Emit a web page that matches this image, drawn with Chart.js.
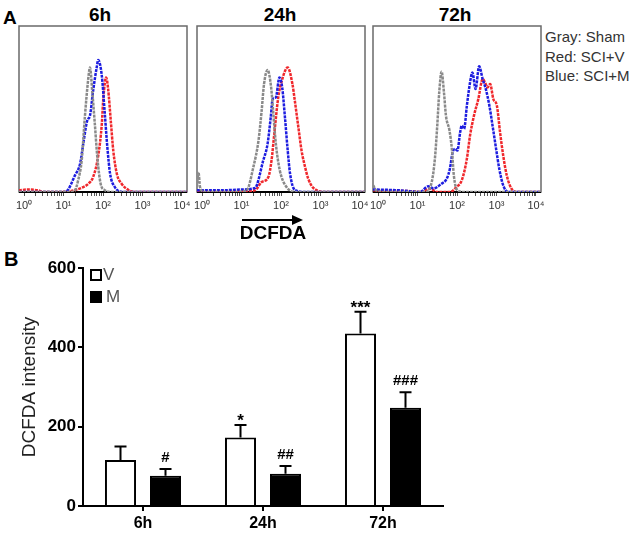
<!DOCTYPE html>
<html>
<head>
<meta charset="utf-8">
<script src="https://cdn.jsdelivr.net/npm/chart.js@4.4.0/dist/chart.umd.min.js"></script>
<style>
  body { margin: 0; background: #fff; width: 638px; height: 537px; position: relative; overflow: hidden;
         font-family: "Liberation Sans", Arial, sans-serif; }
  canvas { position: absolute; }
  .t { position: absolute; line-height: 1; white-space: nowrap; color: #000; }
  .c { transform: translate(-50%, -50%); }
  .m { transform: translateY(-50%); }
  .box { position: absolute; width: 8px; height: 8px; border: 2px solid #000; }
</style>
</head>
<body>

<!-- panel A -->
<div class="t" style="left:3px;top:7px;font:bold 19px 'Liberation Sans';">A</div>
<div class="t c" style="left:100px;top:15px;font:bold 19px 'Liberation Sans';">6h</div>
<div class="t c" style="left:280px;top:15px;font:bold 19px 'Liberation Sans';">24h</div>
<div class="t c" style="left:455px;top:15px;font:bold 19px 'Liberation Sans';">72h</div>
<div class="t m" style="left:545px;top:36px;font:15px 'Liberation Sans';color:#333;">Gray: Sham</div>
<div class="t m" style="left:545px;top:56px;font:15px 'Liberation Sans';color:#333;">Red: SCI+V</div>
<div class="t m" style="left:545px;top:75px;font:15px 'Liberation Sans';color:#333;">Blue: SCI+M</div>

<canvas id="h6" width="188" height="215" style="left:9px;top:0"></canvas>
<canvas id="h24" width="188" height="215" style="left:187px;top:0"></canvas>
<canvas id="h72" width="188" height="215" style="left:363px;top:0"></canvas>

<svg style="position:absolute;left:240px;top:214px" width="66" height="12">
  <line x1="2" y1="6" x2="56" y2="6" stroke="#000" stroke-width="2"/>
  <polygon points="52,1 63,6 52,11" fill="#000"/>
</svg>
<div class="t c" style="left:273px;top:233px;font:bold 19px 'Liberation Sans';">DCFDA</div>

<!-- panel B -->
<div class="t" style="left:4px;top:248px;font:bold 20px 'Liberation Sans';">B</div>
<canvas id="bars" width="460" height="297" style="left:0;top:240px"></canvas>
<div class="box" style="left:90px;top:269px;background:#fff;"></div>
<div class="t m" style="left:103px;top:275px;font:17px 'Liberation Sans';color:#555;">V</div>
<div class="box" style="left:90px;top:291px;background:#000;"></div>
<div class="t m" style="left:106px;top:297px;font:17px 'Liberation Sans';color:#555;">M</div>

<script>
// ---- panel A: histograms, x in decades (log10 of DCFDA fluorescence), y = % of panel height
const gray6X  = [-0.13, 0.50, 1.17, 1.29, 1.37, 1.46, 1.54, 1.63, 1.67, 1.73, 1.79, 1.86, 1.94, 2.05, 2.20, 3.00, 4.13];
const gray6Y  = [0, 0, 0, 1, 7, 19, 45, 69, 75, 60, 42, 20, 5, 1, 0, 0, 0];
const blue6X  = [-0.13, 0.60, 1.00, 1.08, 1.29, 1.42, 1.50, 1.60, 1.67, 1.75, 1.84, 1.88, 1.97, 2.04, 2.11, 2.18, 2.30, 2.50, 3.20, 4.13];
const blue6Y  = [0, 0, 0, 0.5, 10, 17, 29, 43, 46, 61, 75, 79.5, 70, 49, 27, 11, 3, 0, 0, 0];
const red6X   = [-0.13, 0.10, 0.35, 0.50, 0.78, 1.17, 1.50, 1.63, 1.75, 1.88, 1.97, 2.01, 2.08, 2.13, 2.20, 2.26, 2.35, 2.47, 2.66, 2.80, 3.50, 4.13];
const red6Y   = [1, 1.5, 1, 0, 0, 0.5, 3, 5, 9, 22, 41, 57, 69, 62, 42, 25, 11, 5, 1, 0, 0, 0];

const gray24X = [-0.13, -0.09, -0.05, 0.05, 0.80, 1.13, 1.30, 1.43, 1.51, 1.57, 1.66, 1.75, 1.80, 1.87, 1.97, 2.14, 2.40, 3.20, 4.13];
const gray24Y = [3, 12, 3, 0, 0, 1, 15, 31, 49, 65, 73.5, 63, 49, 29, 13, 3, 0, 0, 0];
const blue24X = [-0.13, 0.50, 1.00, 1.34, 1.55, 1.66, 1.74, 1.79, 1.87, 1.96, 2.03, 2.10, 2.17, 2.23, 2.35, 2.61, 3.30, 4.13];
const blue24Y = [1, 1, 1.5, 2.4, 19, 29, 45, 56, 57, 69, 63, 45, 25, 11, 1.2, 0, 0, 0];
const red24X  = [-0.13, 0.50, 1.00, 1.34, 1.51, 1.68, 1.76, 1.83, 1.93, 2.02, 2.17, 2.29, 2.35, 2.44, 2.52, 2.61, 2.69, 2.82, 3.16, 4.13];
const red24Y  = [0.5, 0.5, 0.5, 1, 6, 9, 19, 35, 57, 67, 75, 65, 55, 39, 25, 15, 8, 2.4, 0, 0];

const gray72X = [-0.12, -0.05, 0.18, 1.19, 1.36, 1.44, 1.50, 1.55, 1.61, 1.67, 1.72, 1.81, 1.87, 1.92, 2.01, 2.20, 3.00, 4.13];
const gray72Y = [4, 1, 0, 0, 6, 20, 40, 60, 72.5, 60, 46, 37, 26, 10, 1, 0, 0, 0];
const blue72X = [-0.13, 0.56, 1.06, 1.27, 1.40, 1.61, 1.74, 1.82, 1.89, 1.95, 2.01, 2.08, 2.12, 2.18, 2.25, 2.33, 2.39, 2.47, 2.56, 2.65, 2.73, 2.82, 2.90, 2.99, 3.07, 3.17, 3.30, 4.13];
const blue72Y = [1.5, 1, 0, 3.4, 2.2, 5, 8, 14, 24, 26, 25, 36, 40, 38, 52, 66, 72, 62, 75.7, 68, 62, 52, 40, 26, 14, 4, 0, 0];
const red72X  = [-0.13, 0.81, 1.06, 1.32, 1.49, 1.82, 1.99, 2.12, 2.25, 2.33, 2.43, 2.54, 2.65, 2.71, 2.77, 2.84, 2.92, 3.01, 3.09, 3.17, 3.26, 3.38, 3.51, 4.13];
const red72Y  = [1, 0.5, 0, 2, 0, 0, 3, 7, 20, 34, 46, 56, 68, 66, 63, 65, 56, 52, 36, 22, 10, 2, 0, 0];

const decades = [0, 1, 2, 3, 4];

// ---- panel B: bars
const categories = ['6h', '24h', '72h'];
const vMean = [116, 173, 435];
const vSem  = [34, 31, 55];
const mMean = [76, 81, 248];
const mSem  = [17, 20, 39];
const vMarks = ['', '*', '***'];
const mMarks = ['#', '##', '###'];
const yTicks = [0, 200, 400, 600];

const FONT = "'Liberation Sans', Arial, sans-serif";
const sup = ['\u2070', '\u00B9', '\u00B2', '\u00B3', '\u2074'];

function pts(xs, ys) {
    return xs.map((x, i) => ({ x: x, y: ys[i] }));
}

// box around the histogram plot area
const histBox = {
    id: 'histBox',
    beforeDatasetsDraw(chart) {
        const a = chart.chartArea;
        const ctx = chart.ctx;
        ctx.save();
        ctx.strokeStyle = '#6a6a6a';
        ctx.lineWidth = 1.5;
        ctx.strokeRect(a.left, a.top, a.right - a.left, a.bottom - a.top);
        ctx.strokeStyle = '#000';
        ctx.lineWidth = 2;
        ctx.beginPath();
        ctx.moveTo(a.left, a.bottom);
        ctx.lineTo(a.right, a.bottom);
        ctx.stroke();
        ctx.restore();
    }
};

function makeHist(id, gx, gy, rx, ry, bx, by) {
    const line = (data, color) => ({
        data: data,
        borderColor: color,
        borderWidth: 2.5,
        borderDash: [3, 1],
        pointRadius: 0,
        fill: false,
        cubicInterpolationMode: 'monotone'
    });
    new Chart(document.getElementById(id), {
        type: 'line',
        data: {
            datasets: [
                line(pts(gx, gy), '#8a8a8a'),
                line(pts(bx, by), '#1d1de0'),
                line(pts(rx, ry), '#f0282c')
            ]
        },
        options: {
            responsive: false,
            animation: false,
            layout: { padding: { left: 10, right: 10, top: 26, bottom: 0 } },
            plugins: { legend: { display: false }, tooltip: { enabled: false } },
            scales: {
                x: {
                    type: 'linear',
                    min: -0.127,
                    max: 4.127,
                    afterBuildTicks(scale) {
                        const t = [];
                        decades.forEach(d => {
                            t.push({ value: d });
                            if (d < 4) {
                                for (let k = 2; k <= 9; k++) t.push({ value: d + Math.log10(k) });
                            }
                        });
                        scale.ticks = t;
                    },
                    afterFit(scale) { scale.height = 23; },
                    border: { display: false },
                    grid: { drawOnChartArea: false, tickLength: 4, color: '#555', lineWidth: 1 },
                    ticks: {
                        autoSkip: false,
                        maxRotation: 0,
                        padding: 3,
                        color: '#333',
                        font: { family: FONT, size: 11 },
                        callback: v => {
                            const d = decades.indexOf(v);
                            return d >= 0 ? '10' + sup[d] : '';
                        }
                    }
                },
                y: { display: false, min: 0, max: 100 }
            }
        },
        plugins: [histBox]
    });
}

makeHist('h6', gray6X, gray6Y, red6X, red6Y, blue6X, blue6Y);
makeHist('h24', gray24X, gray24Y, red24X, red24Y, blue24X, blue24Y);
makeHist('h72', gray72X, gray72Y, red72X, red72Y, blue72X, blue72Y);

// error bars (upper only) and significance marks
const errorBars = {
    id: 'errorBars',
    afterDatasetsDraw(chart) {
        const ctx = chart.ctx;
        const y = chart.scales.y;
        const sems = [vSem, mSem];
        const means = [vMean, mMean];
        const marks = [vMarks, mMarks];
        ctx.save();
        ctx.strokeStyle = '#000';
        ctx.lineWidth = 2;
        ctx.fillStyle = '#000';
        ctx.textAlign = 'center';
        ctx.textBaseline = 'alphabetic';
        chart.data.datasets.forEach((ds, di) => {
            chart.getDatasetMeta(di).data.forEach((bar, i) => {
                const top = y.getPixelForValue(means[di][i] + sems[di][i]);
                ctx.beginPath();
                ctx.moveTo(bar.x, bar.y);
                ctx.lineTo(bar.x, top);
                ctx.moveTo(bar.x - 6, top);
                ctx.lineTo(bar.x + 6, top);
                ctx.stroke();
                const mk = marks[di][i];
                if (!mk) return;
                if (mk[0] === '*') {
                    ctx.font = 'bold 17px ' + FONT;
                    ctx.fillText(mk, bar.x, top + 1);
                } else {
                    ctx.font = 'bold 15px ' + FONT;
                    ctx.fillText(mk, bar.x, top - 7);
                }
            });
        });
        ctx.restore();
    }
};

new Chart(document.getElementById('bars'), {
    type: 'bar',
    data: {
        labels: categories,
        datasets: [
            { label: 'V', data: vMean, backgroundColor: '#fff', borderColor: '#000', borderWidth: 2 },
            { label: 'M', data: mMean, backgroundColor: '#000', borderColor: '#000', borderWidth: 2 }
        ]
    },
    options: {
        responsive: false,
        animation: false,
        categoryPercentage: 0.75,
        barPercentage: 0.69,
        layout: { padding: { left: 0, right: 17, top: 28, bottom: 0 } },
        plugins: { legend: { display: false }, tooltip: { enabled: false } },
        scales: {
            x: {
                afterFit(scale) { scale.height = 31; },
                border: { color: '#000', width: 2 },
                grid: { offset: false, drawOnChartArea: false, tickLength: 5, color: '#000', lineWidth: 2 },
                ticks: { padding: 3, color: '#000', font: { family: FONT, size: 16, weight: 'bold' } }
            },
            y: {
                min: 0,
                max: 600,
                afterBuildTicks(scale) { scale.ticks = yTicks.map(v => ({ value: v })); },
                afterFit(scale) { scale.width = 83; },
                border: { color: '#000', width: 2 },
                grid: { drawOnChartArea: false, tickLength: 5, color: '#000', lineWidth: 2 },
                ticks: { padding: 2, color: '#000', font: { family: FONT, size: 17, weight: 'bold' } },
                title: {
                    display: true,
                    text: 'DCFDA intensity',
                    color: '#222',
                    padding: { top: 18, bottom: 0 },
                    font: { family: FONT, size: 19 }
                }
            }
        }
    },
    plugins: [errorBars]
});
</script>
</body>
</html>
